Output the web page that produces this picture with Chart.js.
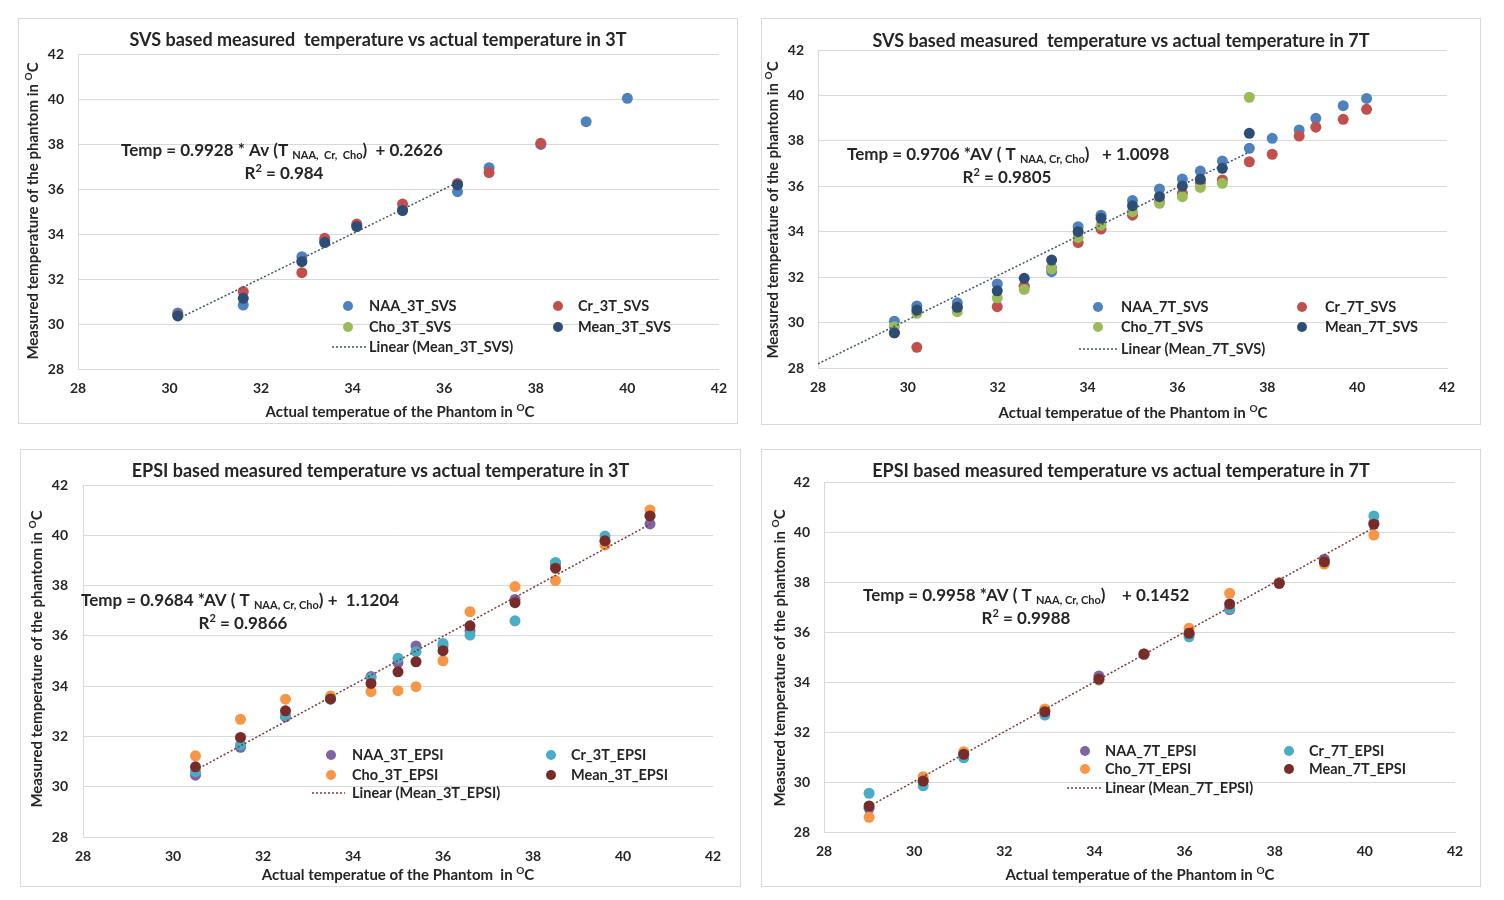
<!DOCTYPE html>
<html>
<head>
<meta charset="utf-8">
<script src="https://cdn.jsdelivr.net/npm/chart.js@4.4.1/dist/chart.umd.min.js"></script>
<style>
body { margin: 0; background: #fff; width: 1504px; height: 900px; position: relative; overflow: hidden; }
.panel { position: absolute; border: 1px solid #d9d9d9; box-sizing: border-box; }
.panel canvas { position: absolute; left: -1px; top: -1px; }
</style>
</head>
<body>
<div class="panel" style="left:18px;top:18px;width:720px;height:406px"><canvas id="c1" width="720" height="406"></canvas></div>
<div class="panel" style="left:761px;top:18px;width:720px;height:407px"><canvas id="c2" width="720" height="407"></canvas></div>
<div class="panel" style="left:20px;top:449px;width:721px;height:438px"><canvas id="c3" width="721" height="438"></canvas></div>
<div class="panel" style="left:761px;top:449px;width:720px;height:438px"><canvas id="c4" width="720" height="438"></canvas></div>
<script>
// axis range (same on all four charts)
const axisMin = 28, axisMax = 42, axisStep = 2;

// 3T SVS
const svs3T_temp = [30.18, 31.61, 32.89, 33.39, 34.09, 35.09, 36.29, 36.98, 38.11, 39.10, 40.00];
const svs3T_naa  = [30.49, 30.84, 32.99, 33.70, 34.38, 35.10, 35.88, 36.95, 37.98, 38.99, 40.03];
const svs3T_cr   = [30.40, 31.44, 32.28, 33.81, 34.44, 35.33, 36.25, 36.73, 38.03, null, null];
const svs3T_cho  = [null, null, null, null, null, null, null, null, null, null, null];
const svs3T_mean = [30.36, 31.14, 32.77, 33.62, 34.33, 35.04, 36.18, null, null, null, null];

// 7T SVS
const svs7T_temp = [29.70, 30.20, 31.10, 31.99, 32.59, 33.20, 33.79, 34.30, 35.00, 35.60, 36.11, 36.51, 37.00, 37.60, 38.11, 38.71, 39.08, 39.69, 40.21];
const svs7T_naa  = [30.06, 30.73, 30.87, 31.70, 31.58, 32.24, 34.22, 34.73, 35.37, 35.88, 36.32, 36.67, 37.11, 37.67, 38.11, 38.48, 38.99, 39.55, 39.87];
const svs7T_cr   = [29.55, 28.91, 30.67, 30.70, 31.60, 32.40, 33.52, 34.12, 34.73, 35.30, 35.69, 36.17, 36.28, 37.08, 37.41, 38.21, 38.60, 38.95, 39.39];
const svs7T_cho  = [29.82, 30.41, 30.48, 31.09, 31.46, 32.36, 33.75, 34.29, 34.88, 35.25, 35.54, 35.95, 36.13, 39.92, null, null, null, null, null];
const svs7T_mean = [29.55, 30.55, 30.67, 31.40, 31.95, 32.75, 34.00, 34.59, 35.14, 35.54, 36.01, 36.31, 36.79, 38.33, null, null, null, null, null];

// 3T EPSI
const epsi3T_temp = [30.5, 31.5, 32.5, 33.5, 34.4, 35.0, 35.4, 36.0, 36.6, 37.6, 38.5, 39.6, 40.6];
const epsi3T_naa  = [30.46, 31.57, 32.78, 33.50, 34.38, 34.93, 35.60, 35.60, 36.20, 37.45, 38.85, 39.76, 40.45];
const epsi3T_cr   = [30.60, 31.66, 32.83, 33.48, 34.32, 35.11, 35.37, 35.70, 36.03, 36.60, 38.92, 39.97, 40.80];
const epsi3T_cho  = [31.23, 32.68, 33.48, 33.61, 33.78, 33.82, 33.98, 35.01, 36.96, 37.96, 38.20, 39.61, 41.01];
const epsi3T_mean = [30.79, 31.96, 33.02, 33.49, 34.11, 34.57, 34.97, 35.41, 36.40, 37.32, 38.69, 39.78, 40.77];

// 7T EPSI
const epsi7T_temp = [29.0, 30.2, 31.1, 32.9, 34.1, 35.1, 36.1, 37.0, 38.1, 39.1, 40.2];
const epsi7T_naa  = [28.95, 30.05, 31.10, 32.85, 34.24, 35.12, 35.90, 36.90, 37.95, 38.91, 40.37];
const epsi7T_cr   = [29.55, 29.85, 30.97, 32.68, 34.08, 35.10, 35.81, 36.95, 37.95, 38.80, 40.64];
const epsi7T_cho  = [28.59, 30.21, 31.21, 32.92, 34.10, 35.12, 36.15, 37.55, 37.98, 38.72, 39.88];
const epsi7T_mean = [29.04, 30.04, 31.11, 32.81, 34.12, 35.12, 35.95, 37.12, 37.95, 38.81, 40.31];

// linear trendlines of the Mean series (as printed on the charts)
const fitSlope     = [0.9928, 0.9706, 0.9684, 0.9958];
const fitIntercept = [0.2626, 1.0098, 1.1204, 0.1452];
const fitFrom      = [30.18, 28.0, 30.5, 29.0];
const fitTo        = [36.29, 37.6, 40.6, 40.2];

const FONT = 'Lato, "Open Sans", sans-serif';
const TXT = '#262626';
const svsColors  = ['#4F81BD', '#C0504D', '#9BBB59', '#2C4D75', '#44546A'];
const epsiColors = ['#8064A2', '#4BACC6', '#F79646', '#772C2A', '#7B3A3A'];

function pts(xs, ys) {
    const out = [];
    xs.forEach((x, i) => { if (ys[i] != null) out.push({ x: x, y: ys[i] }); });
    return out;
}

// text with sub/superscript pieces: [text, 0 normal | 1 sub | 2 sup]
function drawRich(ctx, parts, x, y, align, size) {
    const small = Math.round(size * 0.64);
    let w = 0;
    parts.forEach(p => { ctx.font = 'bold ' + (p[1] ? small : size) + 'px ' + FONT; w += ctx.measureText(p[0]).width; });
    let cx = align === 'center' ? x - w / 2 : x;
    ctx.textAlign = 'left';
    ctx.textBaseline = 'alphabetic';
    parts.forEach(p => {
        ctx.font = 'bold ' + (p[1] ? small : size) + 'px ' + FONT;
        const dy = p[1] === 1 ? size * 0.2 : p[1] === 2 ? -size * 0.42 : 0;
        ctx.fillText(p[0], cx, y + dy);
        cx += ctx.measureText(p[0]).width;
    });
}

const textPlugin = {
    id: 'panelText',
    afterDraw(chart, args, o) {
        const ctx = chart.ctx;
        ctx.save();
        ctx.fillStyle = TXT;
        // title
        ctx.font = 'bold 18px ' + FONT;
        ctx.textAlign = 'center';
        ctx.textBaseline = 'middle';
        ctx.fillText(o.title, chart.width / 2, o.titleY);
        // x axis title
        drawRich(ctx, [[o.xTitle, 0], ['O', 2], ['C', 0]], o.xTitleX, o.xTitleY, 'center', 15);
        // y axis title
        ctx.save();
        ctx.translate(o.yTitleX, o.yTitleY);
        ctx.rotate(-Math.PI / 2);
        drawRich(ctx, [['Measured temperature of the phantom in ', 0], ['O', 2], ['C', 0]], 0, 0, 'center', 15);
        ctx.restore();
        // equation
        drawRich(ctx, o.eq, o.eqX, o.eqY, 'left', 17);
        drawRich(ctx, [['R', 0], ['2', 2], [' = ' + o.r2, 0]], o.r2X, o.r2Y, 'center', 17);
        // legend
        const L = o.legend, ds = chart.data.datasets;
        const cells = [[0, 0, 0], [1, 1, 0], [2, 0, 1], [3, 1, 1]];
        ctx.font = 'bold 14.5px ' + FONT;
        ctx.textAlign = 'left';
        ctx.textBaseline = 'middle';
        cells.forEach(c => {
            const d = ds[c[0]];
            const dx = c[1] ? L.dot2 : L.dot1, tx = c[1] ? L.text2 : L.text1, yy = L.rows[c[2]];
            ctx.fillStyle = d.backgroundColor;
            ctx.beginPath();
            ctx.arc(dx, yy, 5, 0, Math.PI * 2);
            ctx.fill();
            ctx.fillStyle = TXT;
            ctx.fillText(d.label, tx, yy);
        });
        const t = ds[4];
        ctx.strokeStyle = t.borderColor;
        ctx.lineWidth = 1.5;
        ctx.setLineDash([2, 2]);
        ctx.beginPath();
        ctx.moveTo(L.line[0], L.rows[2]);
        ctx.lineTo(L.line[1], L.rows[2]);
        ctx.stroke();
        ctx.setLineDash([]);
        ctx.fillStyle = TXT;
        ctx.fillText(t.label, L.text1, L.rows[2]);
        ctx.restore();
    }
};

function makeChart(id, idx, tag, series, colors, box, text) {
    const names = ['NAA', 'Cr', 'Cho', 'Mean'];
    const datasets = names.map((n, i) => ({
        type: 'scatter',
        label: n + '_' + tag,
        data: pts(series[0], series[i + 1]),
        backgroundColor: colors[i],
        borderWidth: 0,
        pointRadius: 5.5,
        order: 4 - i
    }));
    datasets.push({
        type: 'line',
        label: 'Linear (Mean_' + tag + ')',
        data: [fitFrom[idx], fitTo[idx]].map(x => ({ x: x, y: fitSlope[idx] * x + fitIntercept[idx] })),
        borderColor: colors[4],
        borderWidth: 1.5,
        borderDash: [2, 2],
        pointRadius: 0,
        fill: false,
        order: 0
    });
    const tickFont = { family: FONT, size: 14, weight: 'bold' };
    return new Chart(document.getElementById(id), {
        data: { datasets: datasets },
        plugins: [textPlugin],
        options: {
            responsive: false,
            animation: false,
            layout: { padding: { top: box.top, right: box.right, left: 0, bottom: 0 } },
            scales: {
                x: {
                    type: 'linear', min: axisMin, max: axisMax,
                    ticks: { stepSize: axisStep, font: tickFont, color: TXT, padding: 11 },
                    grid: { display: false, drawTicks: false },
                    border: { display: true, color: '#d9d9d9' },
                    afterFit: s => { s.height = box.xh; }
                },
                y: {
                    type: 'linear', min: axisMin, max: axisMax,
                    ticks: { stepSize: axisStep, font: tickFont, color: TXT, padding: box.ypad },
                    grid: { color: '#d9d9d9', drawTicks: false },
                    border: { display: true, color: '#d9d9d9' },
                    afterFit: s => { s.width = box.left; }
                }
            },
            plugins: { legend: { display: false }, tooltip: { enabled: false }, panelText: text }
        }
    });
}

makeChart('c1', 0, '3T_SVS', [svs3T_temp, svs3T_naa, svs3T_cr, svs3T_cho, svs3T_mean], svsColors,
    { left: 60, top: 36, right: 18, xh: 55, ypad: 14 },
    { title: 'SVS based measured  temperature vs actual temperature in 3T', titleY: 22,
      xTitle: 'Actual temperatue of the Phantom in ', xTitleX: 382, xTitleY: 399, yTitleX: 20, yTitleY: 193,
      eq: [['Temp = 0.9928 * Av (T ', 0], ['NAA,  Cr,  Cho', 1], [')  + 0.2626', 0]], eqX: 103, eqY: 138,
      r2: '0.984', r2X: 266, r2Y: 161,
      legend: { dot1: 330, text1: 351, dot2: 540, text2: 560, rows: [288, 309, 329], line: [314, 348] } });

makeChart('c2', 1, '7T_SVS', [svs7T_temp, svs7T_naa, svs7T_cr, svs7T_cho, svs7T_mean], svsColors,
    { left: 57, top: 32, right: 34, xh: 57, ypad: 14 },
    { title: 'SVS based measured  temperature vs actual temperature in 7T', titleY: 23,
      xTitle: 'Actual temperatue of the Phantom in ', xTitleX: 372, xTitleY: 400, yTitleX: 17, yTitleY: 192,
      eq: [['Temp = 0.9706 *AV ( T ', 0], ['NAA, Cr, Cho', 1], [')   + 1.0098', 0]], eqX: 86, eqY: 142,
      r2: '0.9805', r2X: 246, r2Y: 165,
      legend: { dot1: 337, text1: 360, dot2: 541, text2: 564, rows: [289, 309, 331], line: [318, 357] } });

makeChart('c3', 2, '3T_EPSI', [epsi3T_temp, epsi3T_naa, epsi3T_cr, epsi3T_cho, epsi3T_mean], epsiColors,
    { left: 63, top: 36, right: 28, xh: 50, ypad: 15 },
    { title: 'EPSI based measured temperature vs actual temperature in 3T', titleY: 22,
      xTitle: 'Actual temperatue of the Phantom  in ', xTitleX: 378, xTitleY: 431, yTitleX: 22, yTitleY: 210,
      eq: [['Temp = 0.9684 *AV ( T ', 0], ['NAA, Cr, Cho', 1], [') +  1.1204', 0]], eqX: 61, eqY: 157,
      r2: '0.9866', r2X: 223, r2Y: 180,
      legend: { dot1: 311, text1: 332, dot2: 531, text2: 551, rows: [306, 326, 344], line: [292, 325] } });

makeChart('c4', 3, '7T_EPSI', [epsi7T_temp, epsi7T_naa, epsi7T_cr, epsi7T_cho, epsi7T_mean], epsiColors,
    { left: 63, top: 33, right: 26, xh: 55, ypad: 14 },
    { title: 'EPSI based measured temperature vs actual temperature in 7T', titleY: 22,
      xTitle: 'Actual temperatue of the Phantom in ', xTitleX: 379, xTitleY: 431, yTitleX: 24, yTitleY: 209,
      eq: [['Temp = 0.9958 *AV ( T ', 0], ['NAA, Cr, Cho', 1], [')    + 0.1452', 0]], eqX: 102, eqY: 152,
      r2: '0.9988', r2X: 265, r2Y: 175,
      legend: { dot1: 324, text1: 344, dot2: 528, text2: 548, rows: [302, 320, 339], line: [306, 340] } });
</script>
</body>
</html>
